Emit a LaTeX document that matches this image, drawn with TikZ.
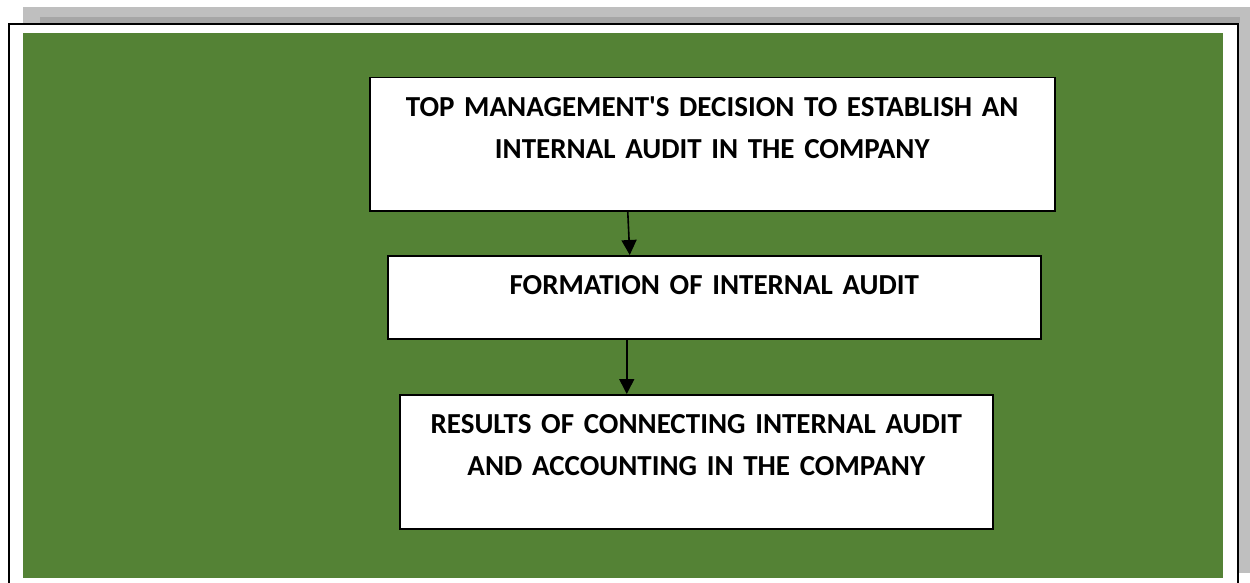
\documentclass[tikz,border=0pt]{standalone}
\usepackage{fontspec}
\setmainfont{Carlito}
\usepackage{xcolor}
\usepackage{tikz}
\usetikzlibrary{positioning,arrows.meta,calc}
\definecolor{boardgreen}{HTML}{548235}
\definecolor{pageshadow}{HTML}{BFBFBF}
\definecolor{pageshadowdk}{HTML}{A6A6A6}
\tikzset{
  stage/.style={draw=black,fill=white,line width=1.5pt,inner sep=0pt,anchor=north west,align=center,font=\bfseries\fontsize{29}{42}\selectfont,text height=39pt},
  flow/.style={-{Triangle[length=15pt,width=15pt]},line width=1.6pt,black},
}

\begin{document}
\begin{tikzpicture}[x=1pt,y=-1pt]
\useasboundingbox (0,0) rectangle (1250,583);
\fill[pageshadow] (23,7) rectangle (1250,573);
\fill[pageshadowdk] (40,17) rectangle (1240,23);
\fill[white] (9,24) rectangle (1238,583);
\draw[line width=2pt] (9,590) -- (9,24) -- (1238,24) -- (1238,590);
\fill[boardgreen] (23,33) rectangle (1223,578);
\node[stage,text width=685pt,text depth=94pt] (topdec) at (369,77) {TOP MANAGEMENT\textquotesingle S DECISION TO ESTABLISH AN\\INTERNAL AUDIT IN THE COMPANY};
\node[stage,text width=653pt,text depth=44pt] (formation) at (387,255) {FORMATION OF INTERNAL AUDIT};
\node[stage,text width=593pt,text depth=95pt] (results) at (399,394) {RESULTS OF CONNECTING INTERNAL AUDIT\\AND ACCOUNTING IN THE COMPANY};
\draw[flow] ([xshift=-84.5pt]topdec.south) -- ([xshift=-84.5pt]formation.north);
\draw[flow] ([xshift=-87.5pt]formation.south) -- ([xshift=-69.5pt]results.north);
\end{tikzpicture}
\end{document}
